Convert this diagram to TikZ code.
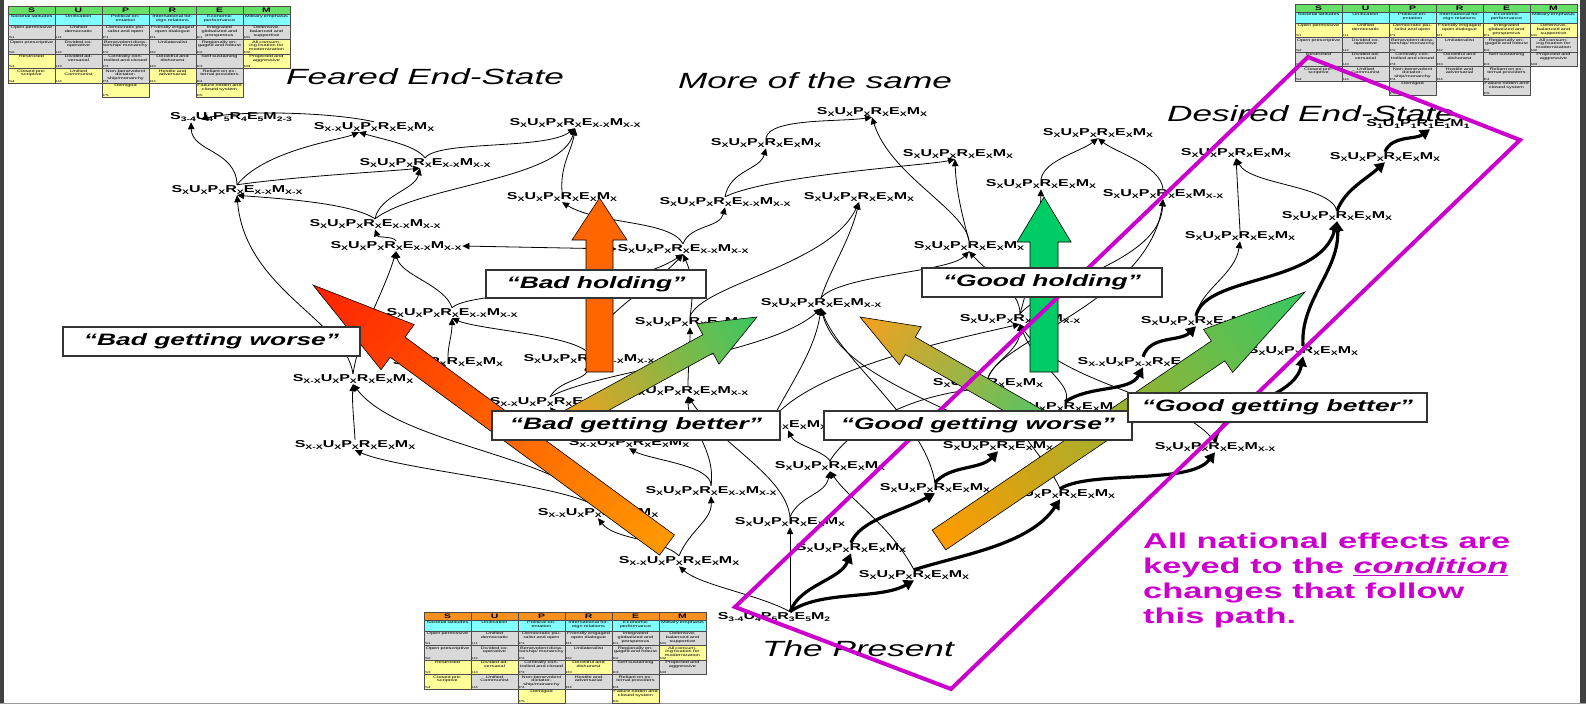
\documentclass[tikz,border=0pt]{standalone}
\usepackage{fontspec}
\usepackage{graphicx}
\usetikzlibrary{arrows.meta,calc}
\newfontfamily\wf{Liberation Sans}[FakeStretch=1.6]
\definecolor{mag}{HTML}{CC00CC}
\definecolor{hdrg}{HTML}{66E066}
\definecolor{hdro}{HTML}{F7901E}
\definecolor{ccy}{HTML}{80FFFF}
\definecolor{cg}{HTML}{D9D9D9}
\definecolor{cy}{HTML}{FFFF99}
\definecolor{orng}{HTML}{FF6600}
\definecolor{grn}{HTML}{00CC66}
\definecolor{arrRed}{HTML}{FF2200}
\definecolor{arrOr}{HTML}{FF9A00}
\definecolor{arrGr}{HTML}{38C862}
\definecolor{arrOrB}{HTML}{F7A01D}
\definecolor{arrGrB}{HTML}{55C464}

\newcommand\sx[1]{\raisebox{-0.28ex}{\fontsize{6.5}{7}\selectfont #1}}
\newcommand\lab[6]{S\sx{#1}U\sx{#2}P\sx{#3}R\sx{#4}E\sx{#5}M\sx{#6}}
\newcommand\LX{\lab{X}{X}{X}{X}{X}{X}}
\newcommand\LXX{\lab{X}{X}{X}{X}{X-X}{X-X}}
\newcommand\LSX{\lab{X-X}{X}{X}{X}{X}{X}}
\newcommand\LMX{\lab{X}{X}{X}{X}{X}{X-X}}

\tikzset{
 tctext/.style={anchor=north,text width=45pt,align=center,inner sep=0pt,font=\wf\fontsize{3.5}{3.9}\selectfont},
 tcsub/.style={anchor=south west,inner sep=0pt,font=\wf\fontsize{2.8}{3}\selectfont},
 stl/.style={font=\wf\bfseries\fontsize{10}{12}\selectfont, inner sep=0.8pt},
 ca/.style={draw=black, line width=0.8pt, -{Triangle[length=7pt,width=6.5pt]}},
 cab/.style={draw=black, line width=0.8pt, {Triangle[length=7pt,width=6.5pt]}-{Triangle[length=7pt,width=6.5pt]}},
 ct/.style={draw=black, line width=3.2pt, -{Triangle[length=10pt,width=11pt]}},
 bx/.style={draw=black!80, line width=1.1pt, fill=white, inner sep=0pt, font=\wf\bfseries\itshape\fontsize{16.5}{18}\selectfont},
 ttl/.style={font=\wf\itshape\fontsize{22}{24}\selectfont, inner sep=0pt, anchor=base}
}

\newcommand\tcell[5]{%
  \path[draw=black!70,line width=0.35pt,fill=#3] ({#1*47},{19+(#2-1)*14.5}) rectangle ++(47,14.5);
  \node[tctext] at ({#1*47+23.5},{19.8+(#2-1)*14.5}) {#4};
  \node[tcsub] at ({#1*47+1},{18.5+#2*14.5}) {#5};}
\newcommand\thead[1]{%
  \foreach \hdL/\hdT [count=\hdI from 0] in {S/Societal latitudes,U/Unification,P/Political orientation,R/International foreign relations,E/Economic performance,M/Military emphasis}{%
    \path[draw=black!70,line width=0.35pt,fill=#1] ({\hdI*47},0) rectangle ++(47,8);
    \node[inner sep=0pt,font=\wf\bfseries\fontsize{6.5}{7}\selectfont] at ({\hdI*47+23.5},4.2) {\hdL};
    \path[draw=black!70,line width=0.35pt,fill=ccy] ({\hdI*47},8) rectangle ++(47,11);
    \node[tctext] at ({\hdI*47+23.5},8.8) {\hdT};}}
\newcommand\tcS[4]{\tcell{0}{1}{#1}{Open permissive}{S1}\tcell{0}{2}{#2}{Open prescriptive}{S2}\tcell{0}{3}{#3}{Restricted}{S3}\tcell{0}{4}{#4}{Closed prescriptive}{S4}}
\newcommand\tcU[4]{\tcell{1}{1}{#1}{Unified democratic}{U1}\tcell{1}{2}{#2}{Divided cooperative}{U2}\tcell{1}{3}{#3}{Divided adversarial}{U3}\tcell{1}{4}{#4}{Unified Communist}{U4}}
\newcommand\tcP[5]{\tcell{2}{1}{#1}{Democratic pluralist and open}{P1}\tcell{2}{2}{#2}{Benevolent dictatorship/ monarchy}{P2}\tcell{2}{3}{#3}{Centrally controlled and closed}{P3}\tcell{2}{4}{#4}{Non-benevolent dictatorship/monarchy}{P4}\tcell{2}{5}{#5}{Demigod}{P5}}
\newcommand\tcR[4]{\tcell{3}{1}{#1}{Friendly engaged open dialogue}{R1}\tcell{3}{2}{#2}{Unilateralist}{R2}\tcell{3}{3}{#3}{Deceitful and dishonest}{R3}\tcell{3}{4}{#4}{Hostile and adversarial}{R4}}
\newcommand\tcE[5]{\tcell{4}{1}{#1}{Integrated globalized and prosperous}{E1}\tcell{4}{2}{#2}{Regionally engaged and robust}{E2}\tcell{4}{3}{#3}{Self sustaining}{E3}\tcell{4}{4}{#4}{Reliant on external providers}{E4}\tcell{4}{5}{#5}{Failure ridden and closed system}{E5}}
\newcommand\tcM[3]{\tcell{5}{1}{#1}{Defensive, balanced and supportive}{M1}\tcell{5}{2}{#2}{All consuming fixation for modernization}{M2}\tcell{5}{3}{#3}{Projected and aggressive}{M3}}

% big block arrow with a gradient along its axis: tail, tip, shaft half width, head half width, head length, tail colour, tip colour
\newcommand\bigarr[7]{%
  \coordinate (ba1) at (#1); \coordinate (ba2) at (#2);
  \coordinate (bah) at ($(ba2)!#5!(ba1)$);
  \coordinate (bperp) at ($(ba1)!45pt!90:(ba2)$);
  \begin{scope}
    \clip ($(ba1)!#3!90:(ba2)$) -- ($(bah)!#3!90:(ba2)$) -- ($(bah)!#4!90:(ba2)$) -- (ba2)
      -- ($(bah)!#4!-90:(ba2)$) -- ($(bah)!#3!-90:(ba2)$) -- ($(ba1)!#3!-90:(ba2)$) -- cycle;
    \foreach \k in {0,...,39}{%
      \pgfmathsetmacro\bpa{\k/40}%
      \pgfmathsetmacro\bpb{(\k+1.3)/40}%
      \pgfmathsetmacro\bpc{100*(\k+0.5)/40}%
      \coordinate (bq1) at ($(ba1)!\bpa!(ba2)$);
      \coordinate (bq2) at ($(ba1)!\bpb!(ba2)$);
      \fill[color=#7!\bpc!#6] ($(bq1)+(bperp)-(ba1)$) -- ($(bq2)+(bperp)-(ba1)$) -- ($(bq2)-(bperp)+(ba1)$) -- ($(bq1)-(bperp)+(ba1)$) -- cycle;
    }
  \end{scope}
  \draw[black,line width=0.6pt,line join=miter] ($(ba1)!#3!90:(ba2)$) -- ($(bah)!#3!90:(ba2)$) -- ($(bah)!#4!90:(ba2)$) -- (ba2)
      -- ($(bah)!#4!-90:(ba2)$) -- ($(bah)!#3!-90:(ba2)$) -- ($(ba1)!#3!-90:(ba2)$) -- cycle;}

\begin{document}
\begin{tikzpicture}[x=1pt,y=-1pt]
\useasboundingbox (0,0) rectangle (1586,704);
\fill[white] (0,0) rectangle (1586,704);
\fill[black!75] (0,0) rectangle (4,704);
\fill[black!75] (1580,0) rectangle (1586,704);
\draw[black!40,line width=1pt] (0,703.5) -- (1586,703.5);

% tables
\begin{scope}[shift={(8,6)}]
\thead{hdrg}
\tcS{cg}{cg}{cy}{cy}\tcU{cg}{cg}{cg}{cy}\tcP{cg}{cg}{cg}{cg}{cy}\tcR{cg}{cg}{cg}{cy}\tcE{cg}{cg}{cg}{cg}{cy}\tcM{cg}{cy}{cy}
\end{scope}
\begin{scope}[shift={(1295,4)}]
\thead{hdrg}
\tcS{cy}{cg}{cg}{cg}\tcU{cy}{cg}{cg}{cg}\tcP{cy}{cg}{cg}{cg}{cg}\tcR{cy}{cg}{cg}{cg}\tcE{cy}{cg}{cg}{cg}{cg}\tcM{cy}{cg}{cg}
\end{scope}
\begin{scope}[shift={(424,612)}]
\thead{hdro}
\tcS{cg}{cg}{cy}{cy}\tcU{cg}{cg}{cy}{cg}\tcP{cg}{cg}{cg}{cg}{cy}\tcR{cg}{cg}{cy}{cg}\tcE{cg}{cg}{cg}{cg}{cy}\tcM{cg}{cy}{cg}
\end{scope}

% titles
\node[ttl] (t1) at (425,84) {Feared End-State};
\node[ttl] (t2) at (815,88) {More of the same};
\node[ttl] (t3) at (1311,121) {Desired End-State};
\node[ttl] (t4) at (858,656) {The Present};

% state labels
\node[stl] (F0) at (231,117) {\lab{3-4}{4}{5}{4}{5}{2-3}};
\node[stl] (A1) at (374,127) {\LSX};
\node[stl] (A2) at (575,123) {\LXX};
\node[stl] (A3) at (425,163) {\LXX};
\node[stl] (A4) at (237,190) {\LXX};
\node[stl] (A5) at (375,224) {\LXX};
\node[stl] (A6) at (396,246) {\LXX};
\node[stl] (B1) at (562,197) {\LX};
\node[stl] (B2) at (683,249) {\LXX};
\node[stl] (B3) at (725,202) {\LXX};
\node[stl] (B4) at (766,143) {\LX};
\node[stl] (B5) at (872,112) {\LX};
\node[stl] (B6) at (859,197) {\LX};
\node[stl] (A7) at (452,313) {\LXX};
\node[stl] (A8) at (448,362) {\LX};
\node[stl] (A9) at (353,379) {\LSX};
\node[stl] (A10) at (355,445) {\LSX};
\node[stl] (C1) at (589,359) {\LXX};
\node[stl] (C2) at (690,322) {\LX};
\node[stl] (C3) at (688,391) {\LMX};
\node[stl] (C4) at (550,402) {\LSX};
\node[stl] (C5) at (629,443) {\LSX};
\node[stl] (C6) at (711,491) {\LXX};
\node[stl] (C7) at (598,513) {\LSX};
\node[stl] (C8) at (679,561) {\LSX};
\node[stl] (D1) at (774,617) {\lab{3-4}{4}{5}{3}{5}{2}};
\node[stl] (D2) at (790,522) {\LX};
\node[stl] (D3) at (830,466) {\LX};
\node[stl] (D4) at (851,548) {\LX};
\node[stl] (D5) at (914,575) {\LX};
\node[stl] (D6) at (772,425) {\LX};
\node[stl] (D7) at (821,303) {\LMX};
\node[stl] (D8) at (969,246) {\LX};
\node[stl] (D9) at (1020,319) {\LMX};
\node[stl] (D10) at (988,383) {\LX};
\node[stl] (D11) at (1065,407) {\LX};
\node[stl] (D12) at (1143,362) {\lab{X-X}{X}{X-X}{X}{X}{X}};
\node[stl] (D13) at (1196,321) {\LX};
\node[stl] (D14) at (1303,351) {\LX};
\node[stl] (D15) at (1215,447) {\LMX};
\node[stl] (D16) at (935,488) {\LX};
\node[stl] (D18) at (998,446) {\LX};
\node[stl] (D19) at (1060,494) {\LX};
\node[stl] (E1) at (958,154) {\LX};
\node[stl] (E2) at (1098,133) {\LX};
\node[stl] (E3) at (1041,184) {\LX};
\node[stl] (E4) at (1163,194) {\LMX};
\node[stl] (E5) at (1236,153) {\LX};
\node[stl] (E6) at (1240,236) {\LX};
\node[stl] (E7) at (1337,216) {\LX};
\node[stl] (E8) at (1385,157) {\LX};
\node[stl] (E9) at (1418,124) {\lab{1}{1}{1}{1}{1}{1}};

% thin connectors, left
\draw[ca] (A4.north) .. controls (236,150) and (192,152) .. ($(F0.south)+(-40,0)$);
\draw[ca] (A1.north) .. controls (330,112) and (240,110) .. ($(F0.south)+(-30,-3)$);
\draw[ca] (A4.north) .. controls (265,150) and (340,140) .. ($(A1.south)+(-15,0)$);
\draw[ca] (A4.north) .. controls (300,176) and (380,172) .. ($(A3.south)+(-5,0)$);
\draw[ca] (A3.north) .. controls (415,145) and (385,140) .. ($(A1.south)+(-15,0)$);
\draw[ca] (A3.north) .. controls (440,140) and (545,150) .. (A2.south);
\draw[ca] (A5.north) .. controls (380,195) and (415,190) .. ($(A3.south)+(-5,0)$);
\draw[ca] (A5.north) .. controls (350,202) and (270,198) .. (A4.south);
\draw[ca] (A5.north) .. controls (420,185) and (560,180) .. (A2.south);
\draw[ca] (A6.north) .. controls (393,236) and (378,238) .. (A5.south);
\draw[cab] (A6.east) -- (B2.west);
\draw[ca] (B1.north) .. controls (560,165) and (572,150) .. (A2.south);
\draw[ca] (B2.north) .. controls (670,220) and (600,225) .. (B1.south);
\draw[ca] (B2.north) .. controls (690,225) and (720,228) .. (B3.south);
\draw[ca] (B3.north) .. controls (730,170) and (760,170) .. (B4.south);
\draw[ca] (B4.north) .. controls (770,118) and (840,122) .. (B5.south);
\draw[ca] (B3.north) .. controls (770,175) and (930,165) .. ($(E1.south)+(-3,0)$);
\draw[ca] (D8.north) .. controls (965,210) and (890,175) .. (B5.south);
\draw[ca] (D8.north) .. controls (962,215) and (956,190) .. ($(E1.south)+(-3,0)$);
\draw[ca] (A7.north) .. controls (445,285) and (400,275) .. (A6.south);
\draw[ca] (A7.north) .. controls (470,290) and (620,295) .. (B2.south);
\draw[ca] (A8.north) .. controls (448,345) and (452,335) .. (A7.south);
\draw[ca] (C1.north) .. controls (575,335) and (480,330) .. (A7.south);
\draw[ca] (C1.north) .. controls (595,315) and (650,290) .. (B2.south);
\draw[ca] (A9.north) .. controls (345,320) and (245,290) .. (A4.south);
\draw[ca] (A9.north) .. controls (360,330) and (385,290) .. (A6.south);
\draw[ca] (A10.north) .. controls (354,420) and (352,405) .. (A9.south);
\draw[ca] (C7.north) .. controls (560,455) and (400,445) .. (A9.south);
\draw[ca] (C7.north) .. controls (570,485) and (400,470) .. (A10.south);
\draw[ca] (C8.north) .. controls (660,538) and (615,540) .. (C7.south);
\draw[ca] (C8.north) .. controls (690,530) and (712,520) .. (C6.south);
\draw[ca] (C6.north) .. controls (712,465) and (650,460) .. (C5.south);
\draw[ca] (C6.north) .. controls (716,450) and (688,425) .. (C3.south);
\draw[ca] (C3.north) .. controls (688,370) and (690,350) .. (C2.south);
\draw[ca] (C2.north) .. controls (700,285) and (830,265) .. (B6.south);
\draw[ca] (C2.north) .. controls (695,285) and (690,270) .. (B2.south);
\draw[ca] (C4.north) .. controls (560,380) and (585,380) .. (C1.south);
\draw[ca] (C4.north) .. controls (600,370) and (770,355) .. (D7.south);
\draw[ca] (C5.north) .. controls (620,425) and (565,425) .. (C4.south);

% present region
\coordinate (d1t) at ($(D1.north)+(16,0)$);
\draw[ca] (d1t) -- (D2.south);
\draw[ca] (d1t) .. controls (760,595) and (700,585) .. (C8.south);
\draw[ct] (d1t) .. controls (800,585) and (840,580) .. (D4.south);
\draw[ct] (d1t) .. controls (820,590) and (880,600) .. (D5.south);
\draw[ca] (D2.north) .. controls (800,495) and (825,495) .. (D3.south);
\draw[ca] (D2.north) .. controls (785,475) and (720,445) .. (C3.south);
\draw[ca] (D3.north) .. controls (822,450) and (795,445) .. ($(D6.south)+(16,0)$);
\draw[ca] (D3.north) .. controls (845,435) and (900,395) .. (D10.south);
\draw[ct] (D4.north) .. controls (860,520) and (900,512) .. (D16.south);
\draw[ct] (D5.north) .. controls (960,555) and (1030,545) .. (D19.south);
\draw[ca] (D5.north) .. controls (890,525) and (850,500) .. (D3.south);
\draw[ct] (D16.north) .. controls (950,465) and (980,470) .. (D18.south);
\draw[ct] (D19.north) .. controls (1090,470) and (1190,485) .. (D15.south);
\draw[ct] (D18.north) .. controls (1010,425) and (1050,425) .. (D11.south);
\draw[ct] (D11.north) .. controls (1090,385) and (1130,392) .. (D12.south);
\draw[ct] (D12.north) .. controls (1150,335) and (1180,342) .. (D13.south);
\draw[ct] (D15.north) .. controls (1220,405) and (1295,400) .. (D14.south);
\draw[ct] (D14.north) .. controls (1300,300) and (1340,270) .. (E7.south);
\draw[ct] (D13.north) .. controls (1205,275) and (1320,285) .. (E7.south);
\draw[ct] (E7.north) .. controls (1345,190) and (1365,180) .. (E8.south);
\draw[ct] (E8.north) .. controls (1392,135) and (1415,140) .. ($(E9.south)+(12,0)$);
\draw[ca] (D13.north) .. controls (1200,290) and (1235,275) .. (E6.south);
\draw[ca] (E6.north) -- (E5.south);
\draw[ca] (E7.north) .. controls (1330,185) and (1250,185) .. (E5.south);
\draw[ca] (E3.north) .. controls (1045,160) and (1080,152) .. (E2.south);
\draw[ca] (E4.north) .. controls (1160,165) and (1115,152) .. (E2.south);
\draw[ca] (D9.north) .. controls (1030,280) and (1040,230) .. (E3.south);
\draw[ca] (D9.north) .. controls (1050,280) and (1160,262) .. (E4.south);
\draw[ca] (D10.north) .. controls (1000,340) and (1150,300) .. (E4.south);
\draw[ca] (D7.north) .. controls (830,270) and (850,240) .. (B6.south);
\draw[ca] (D7.north) .. controls (840,275) and (950,272) .. (D8.south);
\draw[ca] (D9.north) .. controls (1020,290) and (990,275) .. (D8.south);
\draw[ca] (D6.north) .. controls (790,385) and (815,350) .. (D7.south);
\draw[ca] (D6.north) .. controls (810,370) and (950,340) .. (D9.south);
\draw[ca] (D10.north) .. controls (995,360) and (1020,350) .. (D9.south);
\draw[ca] (D11.north) .. controls (1075,385) and (1035,365) .. (D9.south);
\draw[ca] (D16.north) .. controls (925,420) and (840,360) .. (D7.south);
\draw[ca] (D18.north) .. controls (970,410) and (840,380) .. (D7.south);
\draw[ca] (D19.north) .. controls (1050,465) and (1010,420) .. (D10.south);
\draw[ca] (D15.north) .. controls (1180,395) and (1060,385) .. (D9.south);

% big arrows
\bigarr{667,545}{313,285}{12.5pt}{28pt}{105pt}{arrOr}{arrRed}
\path[draw=black,line width=0.6pt,fill=orng] (586,372) -- (586,240) -- (572,240) -- (599.5,198) -- (627,240) -- (613,240) -- (613,372) -- cycle;
\path[draw=black,line width=0.6pt,fill=grn] (1030,372) -- (1030,242) -- (1017,242) -- (1044,197) -- (1071,242) -- (1058,242) -- (1058,372) -- cycle;
\bigarr{560,425}{757,317}{10.5pt}{23pt}{56pt}{arrOrB}{arrGr}
\bigarr{1040,420}{860,317}{10pt}{22pt}{58pt}{arrGrB}{arrOrB}
\bigarr{939,540}{1305,292}{12pt}{26pt}{105pt}{arrOr}{arrGr}

% magenta path
\draw[mag,line width=4pt] (735,607) -- (1308,57) -- (1520,140) -- (951,689) -- cycle;

% boxes
\node[bx,minimum width=297pt,minimum height=29pt] (bgw) at (211.5,341.5) {“Bad getting worse”};
\node[bx,minimum width=220pt,minimum height=28pt] (bh) at (596,284) {“Bad holding”};
\node[bx,minimum width=288pt,minimum height=29pt] (bgb) at (636,425.5) {“Bad getting better”};
\node[bx,minimum width=308pt,minimum height=29pt] (ggw) at (978,425.5) {“Good getting worse”};
\node[bx,minimum width=240pt,minimum height=29pt] (gh) at (1042,282.5) {“Good holding”};
\node[bx,minimum width=299pt,minimum height=29pt] (ggb) at (1277.5,407.5) {“Good getting better”};

% note
\node[anchor=north west,align=left,inner sep=0pt,text=mag,font=\wf\bfseries\fontsize{21.5}{25}\selectfont] (note) at (1143,533) {All national effects are\\keyed to the \underline{\itshape condition}\\changes that follow\\this path.};
\end{tikzpicture}
\end{document}
